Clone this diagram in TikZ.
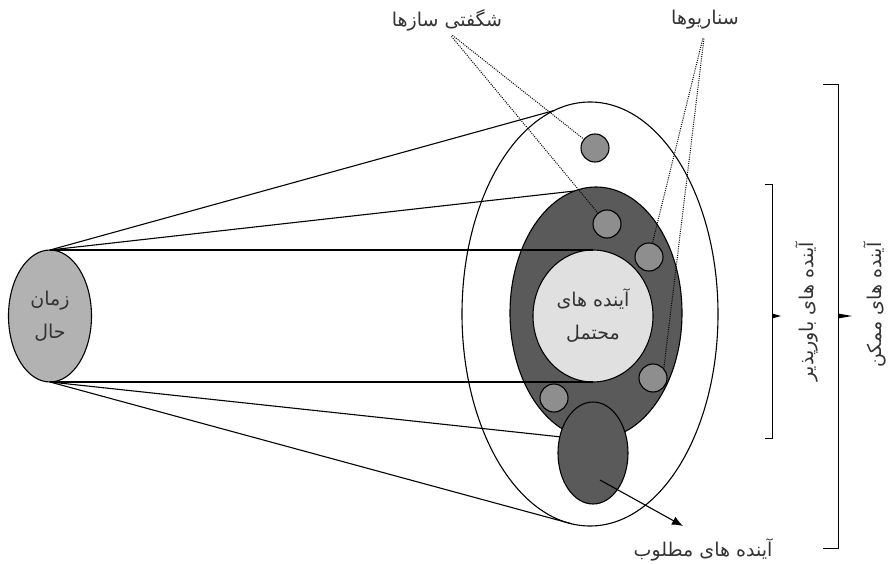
\documentclass[tikz,border=0pt]{standalone}
\usepackage{fontspec}
\usepackage{tikz}
\usetikzlibrary{arrows.meta,positioning,shapes.geometric,calc}
\usepackage{xcolor}
\newfontfamily\arabicfont[Script=Arabic]{DejaVu Sans}
\TeXXeTstate=1
\definecolor{presentGray}{RGB}{178,178,178}
\definecolor{plausibleGray}{RGB}{90,90,90}
\definecolor{probableGray}{RGB}{224,224,224}
\definecolor{scenarioGray}{RGB}{142,142,142}
\definecolor{labelGray}{RGB}{51,51,51}

\begin{document}
\begin{tikzpicture}[
  x=1pt, y=-1pt,
  blob/.style={ellipse, draw=black, line width=1.1pt, inner sep=0pt, outer sep=0pt},
  dot/.style={circle, draw=black, line width=1.1pt, fill=scenarioGray, minimum size=28pt, inner sep=0pt, outer sep=0pt},
  lbl/.style={font=\arabicfont\fontsize{19}{33}\selectfont, text=labelGray, align=center, inner sep=0pt},
  ln/.style={line width=1.1pt},
  dotln/.style={line width=1pt, dash pattern=on 1pt off 1.2pt},
  brk/.style={line width=1pt, line join=miter},
  arr/.style={-{Latex[length=11pt, width=9pt]}, line width=1.1pt}
]
\useasboundingbox (0,0) rectangle (895,564);

% Elipses
\node[blob, fill=white, minimum width=256pt, minimum height=424pt] (possible) at (590,314) {};
\node[blob, fill=plausibleGray, minimum width=172pt, minimum height=252pt] (plausible) at (596,313) {};
\node[blob, fill=probableGray, minimum width=120pt, minimum height=132pt] (probable) at (593,316) {};
\node[blob, fill=presentGray, minimum width=83pt, minimum height=132pt] (present) at (50,316) {};

% Escenarios y sorpresas
\node[dot] (c1) at (595,148) {};
\node[dot] (c2) at (607,224) {};
\node[dot] (c3) at (649,257) {};
\node[dot] (c4) at (653,378) {};
\node[dot] (c5) at (554,398) {};

\node[blob, fill=plausibleGray, minimum width=70pt, minimum height=102pt] (desired) at (593,453) {};

% Textos
\node[lbl] (presenttxt) at (present) {\beginR زمان\endR\\\beginR حال\endR};
\node[lbl] (probabletxt) at (probable) {\beginR آینده های\endR\\\beginR محتمل\endR};
\node[lbl] (surprise) at (447,20) {\beginR شگفتی سازها\endR};
\node[lbl] (scenario) at (705,20) {\beginR سناریوها\endR};
\node[lbl] (desiredtxt) at (703,550) {\beginR آینده های مطلوب\endR};
\node[lbl, rotate=90] (plausibletxt) at (807,312) {\beginR آینده های باورپذیر\endR};
\node[lbl, rotate=90] (possibletxt) at (875,305) {\beginR آینده های ممکن\endR};

% Conexiones
\draw[ln] (present.north) -- (possible.100);
\draw[ln] (present.north) -- (plausible.100);
\draw[ln] (present.north) -- (probable.north);
\draw[ln] (present.south) -- (probable.south);
\draw[ln] (present.south) -- (desired.154);
\draw[ln] (present.south) -- (possible.265);

\draw[dotln, shorten <=7pt] (surprise.south) -- (c1);
\draw[dotln, shorten <=7pt] (surprise.south) -- (c2);
\draw[dotln, shorten <=9pt] (scenario.south) -- (c3);
\draw[dotln, shorten <=9pt] (scenario.south) -- (c4.40);

\coordinate (dstart) at (600,480);
\coordinate (dtip) at (683,526);
\draw[arr] (dstart) -- (dtip);

% Llaves
\draw[brk] (765,185) -- (772,185) -- (772,438) -- (765,438);
\fill (772,313.5) -- (781,316) -- (772,318.5) -- cycle;
\draw[brk] (823,85) -- (838,85) -- (838,548) -- (823,548);
\fill (838,313.5) -- (852,316) -- (838,318.5) -- cycle;

\end{tikzpicture}
\end{document}
